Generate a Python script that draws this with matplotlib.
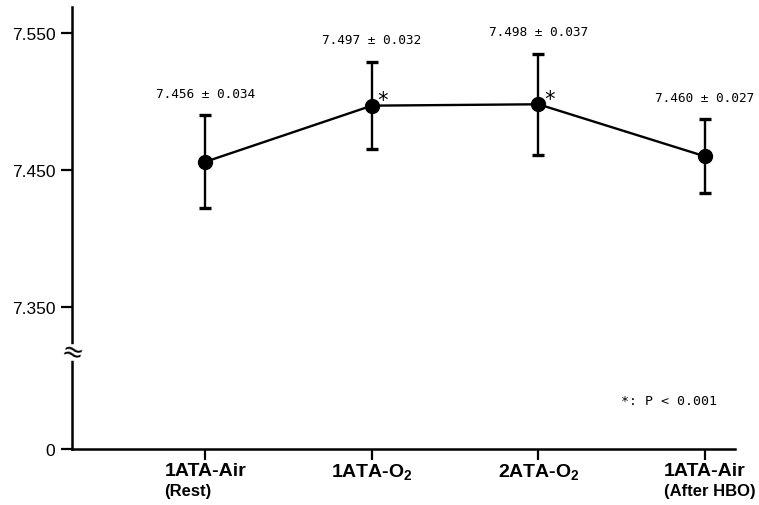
import matplotlib
matplotlib.use('Agg')
import matplotlib.pyplot as plt
import matplotlib.transforms as mtransforms

# ---- data ----
conditions = ['1ATA-Air', '1ATA-O$_\\mathbf{2}$', '2ATA-O$_\\mathbf{2}$', '1ATA-Air']
sublabels = ['(Rest)', '', '', '(After HBO)']
means = [7.456, 7.497, 7.498, 7.460]
sds = [0.034, 0.032, 0.037, 0.027]
significant = [False, True, True, False]
ytick_vals = [7.35, 7.45, 7.55]
ytick_labels = ['7.350', '7.450', '7.550']
axis_floor = 7.2464      # bottom of broken axis, labelled "0"
break_at = 7.317         # position of axis break symbol
note = '*: P < 0.001'

plt.rcParams['font.family'] = ['Liberation Sans', 'DejaVu Sans']
plt.rcParams['mathtext.fontset'] = 'custom'
plt.rcParams['mathtext.rm'] = 'Liberation Sans'
plt.rcParams['mathtext.bf'] = 'Liberation Sans:bold'

W, H = 759, 506
fig = plt.figure(figsize=(W / 100, H / 100), dpi=100)
ax = fig.add_axes([72 / W, 1 - 450 / H, (735 - 72) / W, (450 - 8) / H])

x = list(range(len(means)))
ax.errorbar(x, means, yerr=sds, fmt='-o', color='black', lw=1.7, ms=10,
            capsize=4, capthick=2.4, elinewidth=1.7, zorder=3)

for i, (m, s) in enumerate(zip(means, sds)):
    ax.annotate(f'{m:.3f} ± {s:.3f}', xy=(i, m + s), xytext=(0, 16),
                textcoords='offset points', ha='center', va='center',
                family='DejaVu Sans Mono', fontsize=9.2)
    if significant[i]:
        ax.annotate('*', xy=(i, m), xytext=(8, 4), textcoords='offset points',
                    ha='center', va='center', family='DejaVu Sans Mono',
                    fontsize=15)

ax.set_xlim(-0.8, 3.18)
ax.set_ylim(axis_floor, 7.569)

ax.set_yticks([axis_floor] + ytick_vals)
ax.set_yticklabels(['0'] + ytick_labels, fontsize=12.5)
ax.set_xticks(x)
ax.set_xticklabels(conditions, fontsize=14, fontweight='bold')

for sp in ['top', 'right']:
    ax.spines[sp].set_visible(False)
for sp in ['left', 'bottom']:
    ax.spines[sp].set_linewidth(1.8)
ax.tick_params(axis='y', direction='out', length=8, width=1.6, pad=4)
ax.tick_params(axis='x', direction='out', length=8, width=1.6, pad=1.5)

# axis break
tr = mtransforms.blended_transform_factory(ax.transAxes, ax.transData)
ax.plot([0, 0], [break_at - 0.004, break_at + 0.004], transform=tr,
        color='white', lw=4, clip_on=False, zorder=5)
ax.text(0, break_at, '≈', transform=tr, ha='center', va='center',
        fontsize=19, family='DejaVu Sans', rotation=-15, zorder=6,
        clip_on=False)

ax.text(0.9, 0.11, note, transform=ax.transAxes, ha='center', va='center',
        family='DejaVu Sans Mono', fontsize=9.5)

fig.canvas.draw()
for lbl, sub in zip(ax.get_xticklabels(), sublabels):
    if sub:
        bb = lbl.get_window_extent()
        fig.text(bb.x0 / W, 14 / H, sub, ha='left', va='center',
                 fontsize=12, fontweight='bold')

fig.savefig('out.png', dpi=100)
